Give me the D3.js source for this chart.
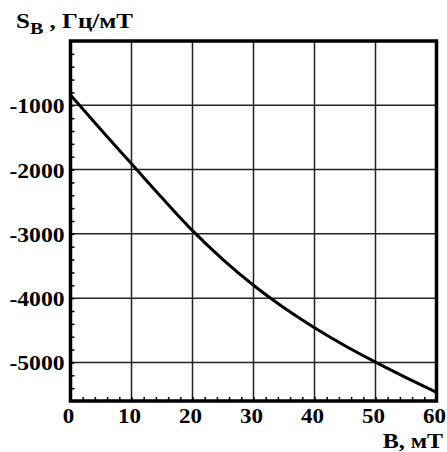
<!DOCTYPE html>
<html>
<head>
<meta charset="utf-8">
<script src="https://cdn.jsdelivr.net/npm/d3@7"></script>
<style>
  body { margin: 0; background: #fff; }
  text { font-family: "Liberation Serif", "Times New Roman", serif; font-weight: bold; fill: #000; }
</style>
</head>
<body>
<div id="chart"></div>
<script>
// data
var fieldB = [0, 5, 10, 15, 20, 25, 30, 35, 40, 45, 50, 55, 60];
var sensB = [-840, -1380, -1910, -2440, -2950, -3400, -3800, -4150, -4460, -4740, -4995, -5235, -5465];
var xTicks = [0, 10, 20, 30, 40, 50, 60];
var yTicks = [-1000, -2000, -3000, -4000, -5000];

var svgWidth = 447;
var svgHeight = 452;

var margin = {
    top: 41,
    right: 10.5,
    bottom: 51,
    left: 70.5
};

var width = svgWidth - margin.left - margin.right;
var height = svgHeight - margin.top - margin.bottom;

var svg = d3.select("#chart")
    .append("svg")
    .attr("width", svgWidth)
    .attr("height", svgHeight);

var chartGroup = svg.append("g")
    .attr("transform", `translate(${margin.left},${margin.top})`);

var xScale = d3.scaleLinear()
    .domain([0, 60])
    .range([0, width]);

var yScale = d3.scaleLinear()
    .domain([-5600, 0])
    .range([height, 0]);

// grid
chartGroup.append("g")
    .selectAll("line")
    .data(xTicks.slice(1, -1))
    .enter()
    .append("line")
    .attr("x1", d => xScale(d))
    .attr("x2", d => xScale(d))
    .attr("y1", 0)
    .attr("y2", height)
    .attr("stroke", "#222")
    .attr("stroke-width", 1.5);

chartGroup.append("g")
    .selectAll("line")
    .data(yTicks)
    .enter()
    .append("line")
    .attr("x1", 0)
    .attr("x2", width)
    .attr("y1", d => yScale(d))
    .attr("y2", d => yScale(d))
    .attr("stroke", "#222")
    .attr("stroke-width", 1.5);

// minor ticks pointing inward
var bottomAxis = d3.axisBottom(xScale)
    .tickValues(d3.range(0, 61, 2))
    .tickSize(-4)
    .tickFormat("");
var leftAxis = d3.axisLeft(yScale)
    .tickValues(d3.range(-5600, 1, 200))
    .tickSize(-4)
    .tickFormat("");

var xAxis = chartGroup.append("g")
    .attr("transform", `translate(0, ${height})`)
    .call(bottomAxis);
var yAxis = chartGroup.append("g")
    .call(leftAxis);
xAxis.select(".domain").remove();
yAxis.select(".domain").remove();
chartGroup.selectAll(".tick line").attr("stroke", "#000").attr("stroke-width", 1.5);

// curve
var line = d3.line()
    .x((d, i) => xScale(fieldB[i]))
    .y(d => yScale(d))
    .curve(d3.curveMonotoneX);

chartGroup.append("path")
    .datum(sensB)
    .attr("d", line)
    .attr("fill", "none")
    .attr("stroke", "#000")
    .attr("stroke-width", 3);

// frame
chartGroup.append("rect")
    .attr("x", 0)
    .attr("y", 0)
    .attr("width", width)
    .attr("height", height)
    .attr("fill", "none")
    .attr("stroke", "#000")
    .attr("stroke-width", 3.5);

// tick labels (glyphs stretched a bit wider, like the original)
chartGroup.append("g")
    .selectAll("text")
    .data(xTicks)
    .enter()
    .append("text")
    .attr("transform", d => `translate(${xScale(d) - 2}, ${height + 22}) scale(1.15, 1)`)
    .attr("text-anchor", "middle")
    .style("font-size", "20px")
    .text(d => d);

chartGroup.append("g")
    .selectAll("text")
    .data(yTicks)
    .enter()
    .append("text")
    .attr("transform", d => `translate(-6, ${yScale(d) + 8}) scale(1.18, 1)`)
    .attr("text-anchor", "end")
    .style("font-size", "20px")
    .text(d => "-" + Math.abs(d));

// axis titles
var yTitle = svg.append("text")
    .attr("transform", "translate(16, 28) scale(1.25, 1)")
    .style("font-size", "20px");
yTitle.append("tspan").text("S");
yTitle.append("tspan").attr("dy", 6).style("font-size", "16px").text("B");
yTitle.append("tspan").attr("dy", -6).text(" , Гц/мТ");

svg.append("text")
    .attr("transform", "translate(443, 448) scale(1.2, 1)")
    .attr("text-anchor", "end")
    .style("font-size", "20px")
    .text("B, мТ");
</script>
</body>
</html>
